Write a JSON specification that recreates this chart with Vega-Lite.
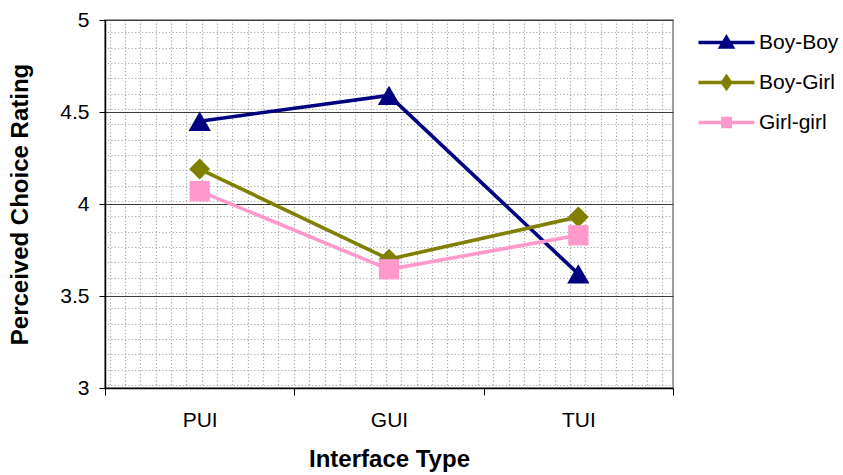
{
  "$schema": "https://vega.github.io/schema/vega-lite/v6.json",
  "width": 568,
  "height": 368,
  "autosize": {"type": "none"},
  "padding": {"left": 105, "top": 20, "right": 170, "bottom": 87},
  "background": "white",
  "config": {
    "font": "Liberation Sans",
    "view": {"stroke": "#808080", "strokeWidth": 1.5}
  },
  "datasets": {
    "ratings": [
      {"pair": "Boy-Boy", "ui": "PUI", "rating": 4.45},
      {"pair": "Boy-Boy", "ui": "GUI", "rating": 4.59},
      {"pair": "Boy-Boy", "ui": "TUI", "rating": 3.62},
      {"pair": "Boy-Girl", "ui": "PUI", "rating": 4.19},
      {"pair": "Boy-Girl", "ui": "GUI", "rating": 3.7},
      {"pair": "Boy-Girl", "ui": "TUI", "rating": 3.93},
      {"pair": "Girl-girl", "ui": "PUI", "rating": 4.07},
      {"pair": "Girl-girl", "ui": "GUI", "rating": 3.645},
      {"pair": "Girl-girl", "ui": "TUI", "rating": 3.83}
    ],
    "pattern": [{"g": 0}]
  },
  "layer": [
    {
      "description": "Dotted background pattern of the plot area",
      "data": {"name": "pattern"},
      "mark": {"type": "point", "opacity": 0},
      "encoding": {
        "x": {
          "field": "g", "type": "quantitative",
          "scale": {"domain": [-0.03, 3.67], "nice": false, "zero": false},
          "axis": {"orient": "top", "title": null, "labels": false, "ticks": false, "domain": false, "grid": true,
                   "tickCount": 37, "gridColor": "#a8a8a8", "gridDash": [1.2, 2.2], "gridWidth": 1.2}
        },
        "y": {
          "field": "g", "type": "quantitative",
          "scale": {"domain": [-0.02, 2.38], "nice": false, "zero": false},
          "axis": {"orient": "right", "title": null, "labels": false, "ticks": false, "domain": false, "grid": true,
                   "tickCount": 24, "gridColor": "#a8a8a8", "gridDash": [1.2, 2.2], "gridWidth": 1.2}
        }
      }
    },
    {
      "data": {"name": "ratings"},
      "encoding": {
        "x": {
          "field": "ui", "type": "nominal", "sort": ["PUI", "GUI", "TUI"],
          "bandPosition": 0.5,
          "scale": {"type": "band", "paddingInner": 0, "paddingOuter": 0},
          "axis": {
            "orient": "bottom",
            "title": "Interface Type", "titleFontSize": 24, "titleFontWeight": "bold", "titleColor": "black",
            "titlePadding": 17, "labelAngle": 0, "labelFontSize": 21, "labelColor": "black", "labelPadding": 14,
            "tickBand": "extent", "tickSize": 7, "tickColor": "black", "tickWidth": 1,
            "domainColor": "black", "domainWidth": 1.5, "grid": false
          }
        },
        "y": {
          "field": "rating", "type": "quantitative",
          "scale": {"domain": [3, 5], "nice": false, "zero": false},
          "axis": {
            "orient": "left",
            "title": "Perceived Choice Rating", "titleFontSize": 24, "titleFontWeight": "bold", "titleColor": "black",
            "titlePadding": 27, "values": [3, 3.5, 4, 4.5, 5], "format": "~g", "labelFontSize": 21, "labelColor": "black",
            "labelPadding": 10, "tickSize": 6, "tickColor": "black", "domainColor": "black", "domainWidth": 1.5,
            "grid": true, "gridColor": "#3a3a3a", "gridWidth": 1
          }
        }
      },
      "layer": [
        {
          "description": "Invisible marks that carry the line-and-marker legend",
          "mark": {"type": "point", "opacity": 0, "filled": true},
          "encoding": {
            "color": {
              "field": "pair", "type": "nominal",
              "scale": {"domain": ["Boy-Boy", "Boy-Girl", "Girl-girl"], "range": ["#000080", "#808000", "#FF99CC"]},
              "legend": {
                "orient": "none", "legendX": 611, "legendY": 12, "title": null, "padding": 0,
                "symbolSize": 196, "symbolStrokeWidth": 3.3, "symbolOpacity": 1, "labelOffset": 22,
                "labelFontSize": 21, "labelColor": "black", "rowPadding": 15,
                "encode": {"symbols": {"update": {
                  "stroke": {"scale": "color", "field": "value"},
                  "fill": {"scale": "color", "field": "value"},
                  "strokeWidth": {"value": 3.3},
                  "opacity": {"value": 1}
                }}}
              }
            },
            "shape": {
              "field": "pair", "type": "nominal",
              "scale": {
                "domain": ["Boy-Boy", "Boy-Girl", "Girl-girl"],
                "range": [
                  "M-4,0H4M0,-0.75L0.85,0.65H-0.85Z",
                  "M-4,0H4M0,-0.85L0.6,0L0,0.85L-0.6,0Z",
                  "M-4,0H4M-0.55,-0.6H0.55V0.6H-0.55Z"
                ]
              },
              "legend": {
                "orient": "none", "legendX": 611, "legendY": 12, "title": null, "padding": 0,
                "symbolSize": 196, "symbolStrokeWidth": 3.3, "symbolOpacity": 1, "labelOffset": 22,
                "labelFontSize": 21, "labelColor": "black", "rowPadding": 15,
                "encode": {"symbols": {"update": {
                  "stroke": {"scale": "color", "field": "value"},
                  "fill": {"scale": "color", "field": "value"},
                  "strokeWidth": {"value": 3.3},
                  "opacity": {"value": 1}
                }}}
              }
            }
          }
        },
        {
          "mark": {"type": "line", "strokeWidth": 3.6},
          "encoding": {
            "color": {"field": "pair", "type": "nominal", "legend": null},
            "detail": {"field": "pair"}
          }
        },
        {
          "transform": [{"filter": "datum.pair === 'Boy-Boy'"}],
          "mark": {"type": "point", "shape": "triangle-up", "size": 500, "filled": true, "opacity": 1, "strokeWidth": 0},
          "encoding": {"color": {"field": "pair", "type": "nominal", "legend": null}}
        },
        {
          "transform": [{"filter": "datum.pair === 'Boy-Girl'"}],
          "mark": {"type": "point", "shape": "diamond", "size": 440, "filled": true, "opacity": 1, "strokeWidth": 0},
          "encoding": {"color": {"field": "pair", "type": "nominal", "legend": null}}
        },
        {
          "transform": [{"filter": "datum.pair === 'Girl-girl'"}],
          "mark": {"type": "point", "shape": "square", "size": 410, "filled": true, "opacity": 1, "strokeWidth": 0},
          "encoding": {"color": {"field": "pair", "type": "nominal", "legend": null}}
        }
      ]
    }
  ],
  "resolve": {"scale": {"x": "independent", "y": "independent"}}
}
